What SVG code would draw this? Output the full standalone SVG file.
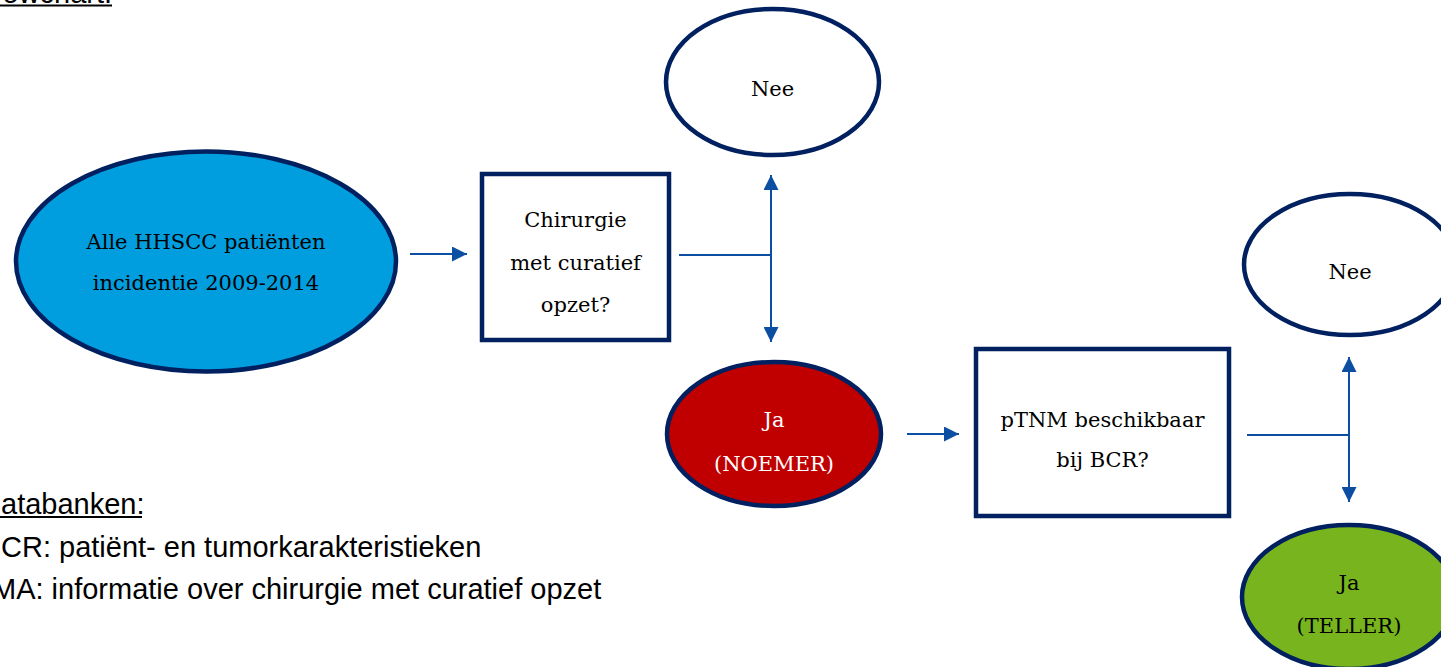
<svg xmlns="http://www.w3.org/2000/svg" width="1441" height="667" viewBox="0 0 1441 667">
  <defs>
    <style>
      .node-ellipse { stroke: #002060; stroke-width: 4.5; }
      .node-box { fill: #ffffff; stroke: #002060; stroke-width: 4.5; }
      .lbl { font-family: "DejaVu Serif", "Liberation Serif", serif; font-size: 21px; text-anchor: middle; fill: #000000; }
      .lbl-w { fill: #ffffff; }
      .note { font-family: "Liberation Sans", Arial, sans-serif; font-size: 29px; fill: #000000; }
      .conn { stroke: #0B4EA2; stroke-width: 2; fill: none; }
      .uline { stroke: #000000; stroke-width: 2; }
    </style>
    <marker id="ah" markerUnits="userSpaceOnUse" markerWidth="16" markerHeight="15" refX="15" refY="7.5" orient="auto-start-reverse">
      <path d="M0,0 L15,7.5 L0,15 Z" fill="#0B4EA2"/>
    </marker>
  </defs>

  <rect width="1441" height="667" fill="#ffffff"/>

  <!-- titles / notes -->
  <g id="title">
    <text class="note" x="2.5" y="2.5">owchart:</text>
    <line class="uline" x1="0" y1="5.5" x2="112" y2="5.5"/>
  </g>
  <g id="databanken">
    <text class="note" x="1" y="514">atabanken:</text>
    <line class="uline" x1="0" y1="517" x2="142" y2="517"/>
    <text class="note" x="1" y="557">CR: patiënt- en tumorkarakteristieken</text>
    <text class="note" x="-8" y="599">MA: informatie over chirurgie met curatief opzet</text>
  </g>

  <!-- connectors -->
  <g id="connectors">
    <line class="conn" x1="410" y1="254" x2="467" y2="254" marker-end="url(#ah)"/>
    <line class="conn" x1="679" y1="255" x2="771" y2="255"/>
    <line class="conn" x1="771" y1="175" x2="771" y2="342" marker-start="url(#ah)" marker-end="url(#ah)"/>
    <line class="conn" x1="907" y1="434" x2="959" y2="434" marker-end="url(#ah)"/>
    <line class="conn" x1="1247" y1="435" x2="1349" y2="435"/>
    <line class="conn" x1="1349" y1="357" x2="1349" y2="502" marker-start="url(#ah)" marker-end="url(#ah)"/>
  </g>

  <!-- nodes -->
  <g id="node-alle">
    <ellipse class="node-ellipse" cx="206" cy="261.5" rx="190" ry="110" fill="#009EDF"/>
    <text class="lbl" x="206" y="249">Alle HHSCC patiënten</text>
    <text class="lbl" x="206" y="290">incidentie 2009-2014</text>
  </g>
  <g id="node-chirurgie">
    <rect class="node-box" x="482" y="174" width="187" height="166"/>
    <text class="lbl" x="575.5" y="227">Chirurgie</text>
    <text class="lbl" x="575.5" y="270">met curatief</text>
    <text class="lbl" x="575.5" y="312">opzet?</text>
  </g>
  <g id="node-nee1">
    <ellipse class="node-ellipse" cx="772.5" cy="82" rx="106.5" ry="73" fill="#ffffff"/>
    <text class="lbl" x="772.5" y="96">Nee</text>
  </g>
  <g id="node-noemer">
    <ellipse class="node-ellipse" cx="774" cy="434" rx="107" ry="72" fill="#C00000"/>
    <text class="lbl lbl-w" x="774" y="427">Ja</text>
    <text class="lbl lbl-w" x="774" y="471">(NOEMER)</text>
  </g>
  <g id="node-ptnm">
    <rect class="node-box" x="976" y="349" width="253" height="167"/>
    <text class="lbl" x="1102.5" y="427">pTNM beschikbaar</text>
    <text class="lbl" x="1102.5" y="467">bij BCR?</text>
  </g>
  <g id="node-nee2">
    <ellipse class="node-ellipse" cx="1350" cy="264.5" rx="106" ry="70.5" fill="#ffffff"/>
    <text class="lbl" x="1350" y="279">Nee</text>
  </g>
  <g id="node-teller">
    <ellipse class="node-ellipse" cx="1349" cy="597" rx="107" ry="72" fill="#78B41E"/>
    <text class="lbl" x="1349" y="590">Ja</text>
    <text class="lbl" x="1349" y="633">(TELLER)</text>
  </g>
</svg>
